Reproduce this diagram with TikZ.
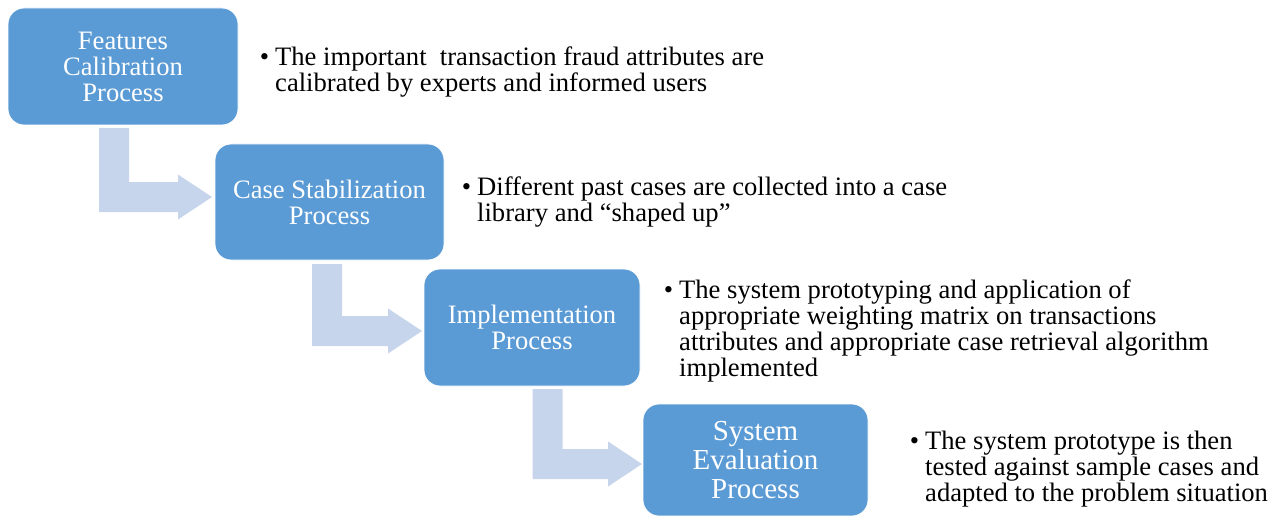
\documentclass[tikz,border=0pt]{standalone}
\usepackage{fontspec}
\setmainfont{Liberation Serif}
\usetikzlibrary{calc}
\definecolor{boxblue}{HTML}{5B9BD5}
\definecolor{arrowblue}{HTML}{C6D5EB}
\tikzset{
  stepbox/.style={rectangle, rounded corners=16pt, fill=boxblue, draw=white,
    line width=0.8pt, text=white, align=center, inner sep=0pt,
    font=\fontsize{26.6}{26}\selectfont},
  bigbox/.style={stepbox, font=\fontsize{29}{29}\selectfont},
  note/.style={anchor=base west, align=left, inner sep=0pt,
    font=\fontsize{26.6}{26}\selectfont},
  bentfill/.style={fill=arrowblue}
}
% bent arrow: vertical bar hanging from #1, turning right into a head whose tip is #2
\newcommand\bentarrow[2]{%
  \fill[bentfill] ($(#1)+(-15,0)$) -- ($(#1)+(15,0)$) -- ($(#1|-#2)+(15,-15)$)
    -- ($(#2)+(-34,-15)$) -- ($(#2)+(-34,-22.5)$) -- (#2)
    -- ($(#2)+(-34,22.5)$) -- ($(#2)+(-34,15)$) -- ($(#1|-#2)+(-15,15)$) -- cycle;}
\newcommand\bul{\llap{\textbullet\hspace{6pt}}}
\begin{document}
\begin{tikzpicture}[x=1pt,y=-1pt]
\useasboundingbox (0,0) rectangle (1280,516);

% bent arrows between the steps
\coordinate (a1s) at (114,128);  \coordinate (a1t) at (212,197);
\coordinate (a2s) at (327,264);  \coordinate (a2t) at (422,331);
\coordinate (a3s) at (547.5,389);\coordinate (a3t) at (642,464);
\bentarrow{a1s}{a1t}
\bentarrow{a2s}{a2t}
\bentarrow{a3s}{a3t}

% process steps
\node[stepbox, minimum width=230pt, minimum height=117pt] (s1) at (123,66.5)
  {Features\\Calibration\\Process};
\node[stepbox, minimum width=229pt, minimum height=116pt] (s2) at (329.5,202)
  {Case Stabilization\\Process};
\node[stepbox, minimum width=216pt, minimum height=117pt] (s3) at (532,327.5)
  {Implementation\\Process};
\node[bigbox, minimum width=225pt, minimum height=112pt] (s4) at (755.5,460)
  {System\\Evaluation\\Process};

% descriptions (anchored at the baseline of the last line)
\node[note] (d1) at (275,92)
  {\bul The important\ \ transaction fraud attributes are\\calibrated by experts and informed users};
\node[note] (d2) at (477,221)
  {\bul Different past cases are collected into a case\\library and “shaped up”};
\node[note] (d3) at (679,376)
  {\bul The system prototyping and application of\\appropriate weighting matrix on transactions\\attributes and appropriate case retrieval algorithm\\implemented};
\node[note] (d4) at (925,501)
  {\bul The system prototype is then\\tested against sample cases and\\adapted to the problem situation};
\end{tikzpicture}
\end{document}
